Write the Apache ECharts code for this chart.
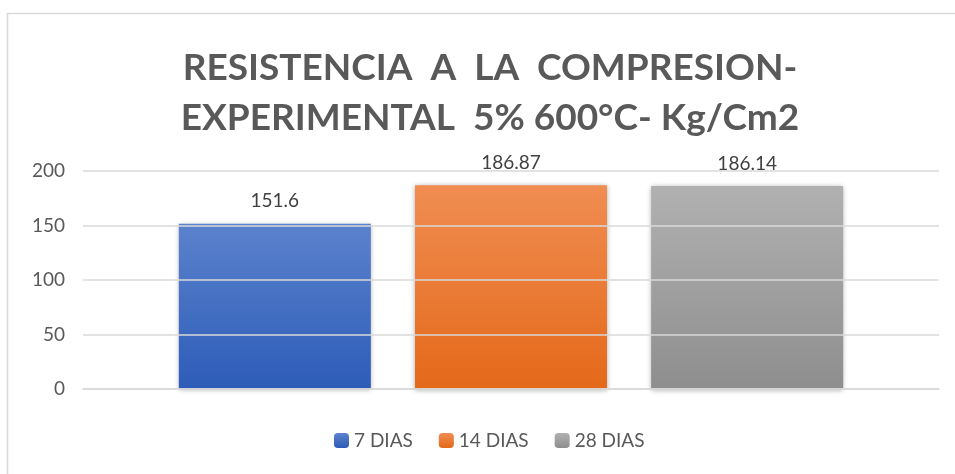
<!DOCTYPE html>
<html>
<head>
<meta charset="utf-8">
<script src="https://cdn.jsdelivr.net/npm/echarts@6/dist/echarts.min.js"></script>
<style>
    html, body {
        margin: 0;
        padding: 0;
        background: #fff;
    }

    #chart {
        width: 955px;
        height: 474px;
    }
</style>
</head>
<body>
<div id="chart"></div>
<script>
// datos
const categorias = [''];
const seriesNombres = ['7 DIAS', '14 DIAS', '28 DIAS'];
const valores = [151.6, 186.87, 186.14];
const ticksY = [0, 50, 100, 150, 200];

// colores de degradado (arriba, abajo)
const colores = [
    ['#5b82cc', '#2d5cb8'],
    ['#f08d52', '#e4691a'],
    ['#b1b1b1', '#8e8e8e']
];

const fuente = 'Lato, "Open Sans", sans-serif';

var myChart = echarts.init(document.getElementById('chart'));

const series = seriesNombres.map(function (nombre, i) {
    return {
        name: nombre,
        type: 'bar',
        data: [valores[i]],
        barWidth: 192,
        barGap: '23%',
        z: 2,
        itemStyle: {
            color: new echarts.graphic.LinearGradient(0, 0, 0, 1, [
                { offset: 0, color: colores[i][0] },
                { offset: 1, color: colores[i][1] }
            ]),
            shadowBlur: 5,
            shadowColor: 'rgba(0,0,0,0.35)',
            shadowOffsetX: 0,
            shadowOffsetY: 1
        },
        label: {
            show: true,
            position: 'top',
            distance: 13,
            fontSize: 19,
            fontFamily: fuente,
            color: '#404040'
        }
    };
});

const option = {
    animation: false,
    title: {
        text: 'RESISTENCIA  A  LA  COMPRESION-\nEXPERIMENTAL  5% 600°C- Kg/Cm2',
        left: 485,
        top: 38,
        textAlign: 'center',
        textStyle: {
            fontFamily: fuente,
            fontSize: 37,
            fontWeight: 'bold',
            lineHeight: 50,
            color: '#595959'
        }
    },
    graphic: [{
        type: 'rect',
        shape: { x: 7.5, y: 13.5, width: 1000, height: 600 },
        style: { fill: 'none', stroke: '#d9d9d9', lineWidth: 1.5 },
        silent: true
    }],
    legend: {
        data: seriesNombres,
        bottom: 19,
        left: 329,
        itemWidth: 15,
        itemHeight: 15,
        itemGap: 26,
        textStyle: {
            fontFamily: fuente,
            fontSize: 19,
            color: '#595959'
        }
    },
    grid: {
        left: 83,
        right: 16,
        top: 171,
        bottom: 85,
        containLabel: false
    },
    xAxis: {
        type: 'category',
        data: categorias,
        axisLine: { lineStyle: { color: '#d9d9d9', width: 1.5 } },
        axisTick: { show: false },
        axisLabel: { show: false },
        z: 3
    },
    yAxis: {
        type: 'value',
        min: ticksY[0],
        max: ticksY[ticksY.length - 1],
        interval: 50,
        axisLine: { show: false },
        axisTick: { show: false },
        axisLabel: {
            fontFamily: fuente,
            fontSize: 19,
            color: '#595959',
            margin: 18
        },
        splitLine: {
            lineStyle: { color: '#d9d9d9', width: 1.5 }
        },
        z: 3
    },
    series: series
};

myChart.setOption(option);
</script>
</body>
</html>
